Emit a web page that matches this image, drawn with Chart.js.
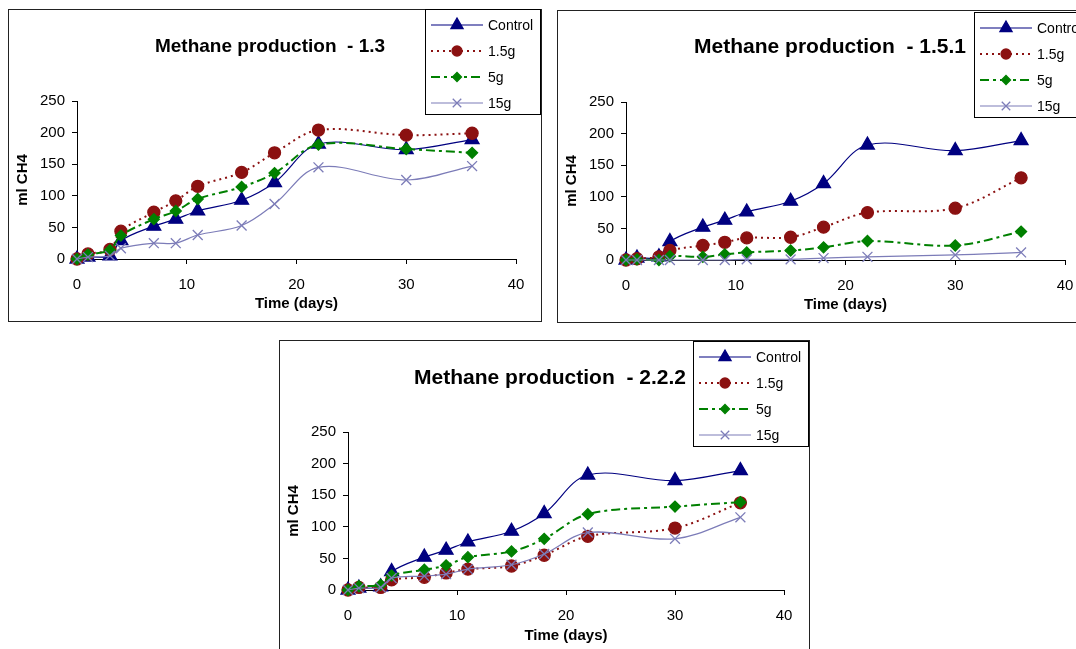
<!DOCTYPE html>
<html>
<head>
<meta charset="utf-8">
<script src="https://cdn.jsdelivr.net/npm/chart.js@4"></script>
<style>
  html, body { margin: 0; padding: 0; background: #fff; overflow: hidden; width: 1076px; height: 649px; }
  .frame { position: absolute; border: 1px solid #222; box-sizing: border-box; }
  canvas { position: absolute; }
</style>
</head>
<body>
<div class="frame" style="left:8px;top:9px;width:534px;height:313px"></div>
<canvas id="c1" width="534" height="313" style="left:8px;top:9px"></canvas>
<div class="frame" style="left:557px;top:10px;width:534px;height:313px"></div>
<canvas id="c2" width="534" height="313" style="left:557px;top:10px"></canvas>
<div class="frame" style="left:279px;top:340px;width:531px;height:314px"></div>
<canvas id="c3" width="531" height="314" style="left:279px;top:340px"></canvas>
<script>
const days = [0, 1, 3, 4, 7, 9, 11, 15, 18, 22, 30, 36];
const seriesNames = ['Control', '1.5g', '5g', '15g'];
const xTicks = [0, 10, 20, 30, 40];
const yTicks = [0, 50, 100, 150, 200, 250];

const control = [0, 3, 5, 29, 52, 63, 76, 93, 121, 182, 173, 189];

// Methane production - 1.3
const p13_1_5g = [0, 8, 15, 44, 74, 92, 115, 137, 168, 204, 196, 199];
const p13_5g   = [0, 7, 14, 37, 63, 76, 95, 114, 136, 181, 174, 168];
const p13_15g  = [0, 3, 5, 17, 25, 25, 38, 53, 87, 145, 125, 147];

// Methane production - 1.5.1
const p151_1_5g = [0, 2, 5, 15, 23, 28, 35, 36, 52, 75, 82, 130];
const p151_5g   = [0, 1, 0, 6, 5, 9, 12, 15, 20, 30, 23, 45];
const p151_15g  = [0, 0, 0, 0, 0, 0, 1, 1, 3, 5, 8, 12];

// Methane production - 2.2.2
const p222_1_5g = [0, 4, 4, 16, 20, 27, 33, 38, 55, 85, 98, 138];
const p222_5g   = [0, 6, 8, 23, 32, 39, 52, 61, 81, 120, 132, 139];
const p222_15g  = [0, 3, 4, 19, 22, 25, 33, 40, 57, 91, 81, 115];

const FONT = "'Liberation Sans', Arial, sans-serif";

const styles = [
  { color: '#000080', width: 1.2, dash: [], point: 'triangle', radius: 8, order: 4 },
  { color: '#8b1111', width: 2, dash: [2, 4], point: 'circle', radius: 6, order: 3 },
  { color: '#008000', width: 2, dash: [9, 4, 3, 4], point: 'rectRot', radius: 5.5, order: 2 },
  { color: '#7c7cb8', width: 1.2, dash: [], point: 'crossRot', radius: 7, order: 1 }
];

// title + boxed legend, drawn like the spreadsheet original
const decorations = {
  id: 'decorations',
  afterDraw(chart, args, opts) {
    const ctx = chart.ctx;
    ctx.save();
    ctx.fillStyle = '#000';
    ctx.font = 'bold ' + opts.titleSize + 'px ' + FONT;
    ctx.textAlign = 'center';
    ctx.textBaseline = 'middle';
    ctx.fillText(opts.title, opts.titleX, opts.titleY);

    const bx = chart.width - 117, by = opts.legendTop, bw = 116, bh = 106;
    ctx.fillStyle = '#fff';
    ctx.fillRect(bx, by, bw, bh);
    ctx.strokeStyle = '#000';
    ctx.lineWidth = 1;
    ctx.strokeRect(bx + 0.5, by + 0.5, bw - 1, bh - 1);
    ctx.textAlign = 'left';
    chart.data.datasets.forEach((ds, i) => {
      const y = by + 16 + i * 26;
      ctx.strokeStyle = ds.borderColor;
      ctx.lineWidth = ds.borderWidth;
      ctx.setLineDash(ds.borderDash);
      ctx.beginPath();
      ctx.moveTo(bx + 6, y);
      ctx.lineTo(bx + 58, y);
      ctx.stroke();
      ctx.setLineDash([]);
      ctx.fillStyle = ds.pointBackgroundColor;
      ctx.strokeStyle = ds.pointBorderColor;
      ctx.lineWidth = 1.3;
      Chart.helpers.drawPoint(ctx, {
        pointStyle: ds.pointStyle, rotation: 0, radius: ds.pointRadius - 1, borderWidth: 1.3
      }, bx + 32, y);
      ctx.fillStyle = '#000';
      ctx.font = '14px ' + FONT;
      ctx.fillText(ds.label, bx + 63, y + 1);
    });
    ctx.restore();
  }
};

function makeChart(id, title, values, deco) {
  const datasets = values.map((vals, i) => {
    const s = styles[i];
    return {
      label: seriesNames[i],
      data: days.map((d, k) => ({ x: d, y: vals[k] })),
      borderColor: s.color,
      borderWidth: s.width,
      borderDash: s.dash,
      pointStyle: s.point,
      pointRadius: s.radius,
      pointBackgroundColor: s.color,
      pointBorderColor: s.color,
      pointBorderWidth: 1.3,
      tension: 0.35,
      clip: false,
      order: s.order
    };
  });
  new Chart(document.getElementById(id), {
    type: 'line',
    data: { datasets },
    plugins: [decorations],
    options: {
      responsive: false,
      animation: false,
      events: [],
      layout: { padding: { left: 0, right: 26, top: 92, bottom: 0 } },
      plugins: {
        legend: { display: false },
        tooltip: { enabled: false },
        title: { display: false },
        decorations: Object.assign({ title }, deco)
      },
      scales: {
        x: {
          type: 'linear',
          min: 0, max: 40,
          afterBuildTicks: s => { s.ticks = xTicks.map(v => ({ value: v })); },
          afterFit: s => { s.height = s.chart.height - 250; },
          ticks: { color: '#000', padding: 12, font: { family: FONT, size: 15 } },
          grid: { drawOnChartArea: false, drawTicks: true, tickLength: 5, color: '#000' },
          border: { display: true, color: '#000', width: 1 },
          title: {
            display: true, text: 'Time (days)', color: '#000',
            font: { family: FONT, size: 15, weight: 'bold' },
            padding: { top: 0, bottom: 9 }
          }
        },
        y: {
          min: 0, max: 250,
          afterBuildTicks: s => { s.ticks = yTicks.map(v => ({ value: v })); },
          afterFit: s => { s.width = 69; },
          ticks: { color: '#000', padding: 7, font: { family: FONT, size: 15 } },
          grid: { drawOnChartArea: false, drawTicks: true, tickLength: 5, color: '#000' },
          border: { display: true, color: '#000', width: 1 },
          title: {
            display: true, text: 'ml CH4', color: '#000',
            font: { family: FONT, size: 15, weight: 'bold' },
            padding: { top: 6, bottom: 0 }
          }
        }
      }
    }
  });
}

makeChart('c1', 'Methane production  - 1.3', [control, p13_1_5g, p13_5g, p13_15g],
  { titleSize: 19, titleX: 262, titleY: 38, legendTop: 0 });
makeChart('c2', 'Methane production  - 1.5.1', [control, p151_1_5g, p151_5g, p151_15g],
  { titleSize: 21, titleX: 273, titleY: 37, legendTop: 2 });
makeChart('c3', 'Methane production  - 2.2.2', [control, p222_1_5g, p222_5g, p222_15g],
  { titleSize: 21, titleX: 271, titleY: 38, legendTop: 1 });
</script>
</body>
</html>
